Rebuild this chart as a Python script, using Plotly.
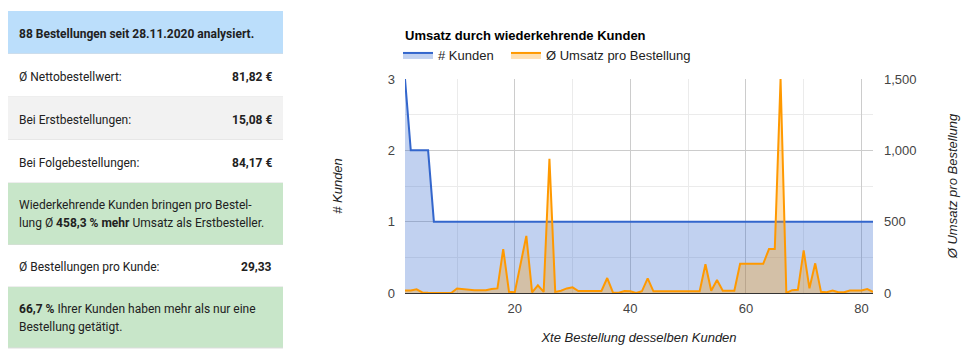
import plotly.graph_objects as go

# ---------------- data ----------------
order_nr = list(range(1, 83))
kunden = [3, 2, 2, 2, 2, 1, 1, 1, 1, 1,
          1, 1, 1, 1, 1, 1, 1, 1, 1, 1,
          1, 1, 1, 1, 1, 1, 1, 1, 1, 1,
          1, 1, 1, 1, 1, 1, 1, 1, 1, 1,
          1, 1, 1, 1, 1, 1, 1, 1, 1, 1,
          1, 1, 1, 1, 1, 1, 1, 1, 1, 1,
          1, 1, 1, 1, 1, 1, 1, 1, 1, 1,
          1, 1, 1, 1, 1, 1, 1, 1, 1, 1,
          1, 1]
umsatz = [18, 18, 26, 4, 1, 0, 0, 0, 0, 32,
          28, 20, 20, 20, 20, 28, 32, 308, 8, 6,
          200, 400, 5, 54, 8, 940, 8, 16, 32, 40,
          14, 14, 14, 14, 14, 105, 2, 2, 14, 12,
          0, 12, 103, 12, 12, 12, 12, 12, 12, 12,
          12, 12, 201, 16, 91, 16, 16, 16, 205, 205,
          205, 205, 205, 308, 308, 1500, 0, 20, 22, 298,
          33, 208, 8, 5, 18, 5, 5, 18, 18, 18,
          28, 8]

chart_title = "Umsatz durch wiederkehrende Kunden"
series_names = ["# Kunden", "Ø Umsatz pro Bestellung"]
axis_titles = ["Xte Bestellung desselben Kunden", "# Kunden", "Ø Umsatz pro Bestellung"]

panel_rows = [
    ("88 Bestellungen seit 28.11.2020 analysiert.", None),
    ("Ø Nettobestellwert:", "81,82 €"),
    ("Bei Erstbestellungen:", "15,08 €"),
    ("Bei Folgebestellungen:", "84,17 €"),
    ("Wiederkehrende Kunden bringen pro Bestel-|lung Ø <b>458,3 % mehr</b> Umsatz als Erstbesteller.", None),
    ("Ø Bestellungen pro Kunde:", "29,33"),
    ("<b>66,7 %</b> Ihrer Kunden haben mehr als nur eine|Bestellung getätigt.", None),
]

# ---------------- layout helpers ----------------
OFF = 8                     # page body margin
W, H = 972 - OFF, 357 - OFF
L, R, T, B = 405, 873, 79, 293   # plot area in window pixels


def px(x):
    return (x - L) / (R - L)


def py(y):
    return (B - y) / (B - T)


fig = go.Figure()
fig.add_trace(go.Scatter(
    x=order_nr, y=kunden, name=series_names[0], mode="lines",
    line=dict(color="#3366cc", width=2), fill="tozeroy",
    fillcolor="rgba(51,102,204,0.3)", yaxis="y", legend="legend"))
fig.add_trace(go.Scatter(
    x=order_nr, y=umsatz, name=series_names[1], mode="lines",
    line=dict(color="#ff9900", width=2), fill="tozeroy",
    fillcolor="rgba(255,153,0,0.3)", yaxis="y2", legend="legend2"))

axfont = dict(family="Liberation Sans, Arial", size=13, color="#444444")
titlefont = dict(family="Liberation Sans, Arial", size=13, color="#222222", style="italic")
legfont = dict(family="Liberation Sans, Arial", size=13, color="#222222")

fig.update_layout(
    width=W, height=H,
    margin=dict(l=L - OFF, r=972 - R, t=T - OFF, b=357 - B, pad=0),
    paper_bgcolor="white", plot_bgcolor="white",
    font=dict(family="Liberation Sans, Arial", size=13, color="#222222"),
    title=dict(text="<b>" + chart_title + "</b>", x=0, xref="paper", xanchor="left",
               y=1 - (35 - OFF) / H, yanchor="middle",
               font=dict(family="Liberation Sans, Arial", size=13, color="#000000")),
    showlegend=True,
    legend=dict(orientation="h", x=px(398), xanchor="left", y=py(55), yanchor="middle",
                font=legfont, bgcolor="rgba(0,0,0,0)", itemwidth=30),
    legend2=dict(orientation="h", x=px(506), xanchor="left", y=py(55), yanchor="middle",
                 font=legfont, bgcolor="rgba(0,0,0,0)", itemwidth=30),
    xaxis=dict(range=[1, 82], tick0=0, dtick=20, showgrid=True, gridcolor="#cccccc",
               minor=dict(dtick=10, tick0=0, showgrid=True, gridcolor="#ebebeb"),
               zeroline=False, showline=False, ticks="", tickfont=axfont,
               ticklabelstandoff=6,
               title=dict(text=axis_titles[0], font=titlefont, standoff=17)),
    yaxis=dict(range=[0, 3], dtick=1, showgrid=True, gridcolor="#cccccc",
               minor=dict(dtick=0.5, showgrid=True, gridcolor="#ebebeb"),
               zeroline=True, zerolinecolor="#333333", zerolinewidth=1,
               showline=False, ticks="", tickfont=axfont, ticklabelstandoff=9,
               title=dict(text=axis_titles[1], font=titlefont, standoff=42)),
    yaxis2=dict(range=[0, 1500], dtick=500, tickformat=",d", overlaying="y", side="right",
                showgrid=False, zeroline=False, showline=False, ticks="",
                tickfont=axfont, ticklabelstandoff=10,
                title=dict(text=axis_titles[2], font=titlefont, standoff=32)),
)

# ---------------- left info panel ----------------
row_bounds = [(11, 54), (54, 97), (97, 140), (140, 183), (183, 245), (245, 287), (287, 348)]
row_colors = ["#bbdefb", "#ffffff", "#f2f2f2", "#ffffff", "#c8e6c9", "#ffffff", "#c8e6c9"]
x0p, x1p = 8, 283
pfont = dict(family="Roboto, Noto Sans, sans-serif", size=12, color="#212121")

shapes = []
annos = []
for (top, bot), col, (label, value) in zip(row_bounds, row_colors, panel_rows):
    shapes.append(dict(type="rect", xref="paper", yref="paper",
                       x0=px(x0p), x1=px(x1p), y0=py(bot), y1=py(top),
                       fillcolor=col, line=dict(width=0), layer="below"))
    shapes.append(dict(type="line", xref="paper", yref="paper",
                       x0=px(x0p), x1=px(x1p), y0=py(bot), y1=py(bot),
                       line=dict(color="#dddddd", width=1), layer="below"))
    lines = label.split("|")
    if len(lines) == 1:
        txt = lines[0]
        if top == 11:
            txt = "<b>" + txt + "</b>"
        annos.append(dict(xref="paper", yref="paper", x=px(17), y=py((top + bot) / 2 + 1),
                          xanchor="left", yanchor="middle", text=txt, showarrow=False,
                          font=pfont))
    else:
        for i, ln in enumerate(lines):
            yc = (top + bot) / 2 - 9 + 18 * i
            annos.append(dict(xref="paper", yref="paper", x=px(17), y=py(yc),
                              xanchor="left", yanchor="middle", text=ln, showarrow=False,
                              font=pfont))
    if value:
        annos.append(dict(xref="paper", yref="paper", x=px(274), y=py((top + bot) / 2 + 1),
                          xanchor="right", yanchor="middle", text="<b>" + value + "</b>",
                          showarrow=False, font=pfont))

fig.update_layout(shapes=shapes, annotations=annos)
fig.write_html("out.html")
